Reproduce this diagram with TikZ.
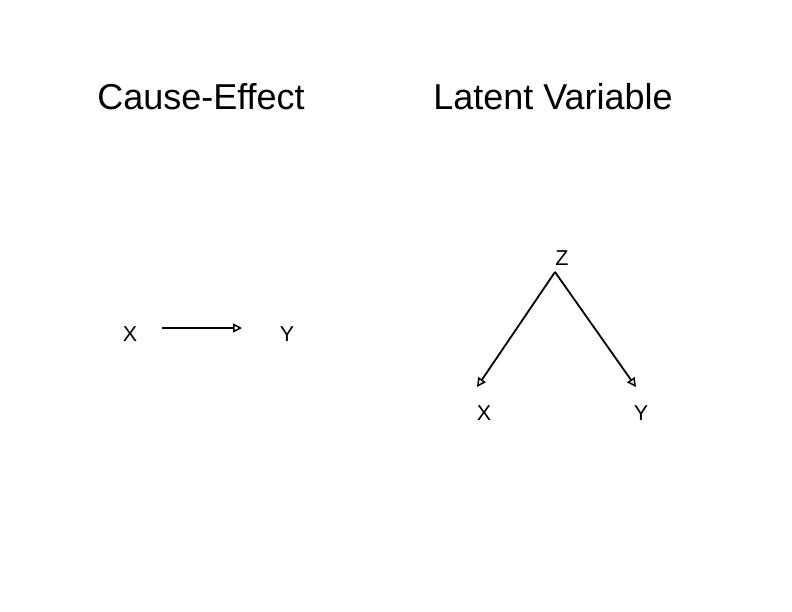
\documentclass[tikz,border=0pt]{standalone}
\usepackage{fontspec}
\setmainfont{Liberation Sans}
\usetikzlibrary{arrows.meta}
\begin{document}
\begin{tikzpicture}[x=1pt,y=-1pt,
  title/.style={anchor=base,inner sep=0pt,font=\fontsize{36}{40}\selectfont},
  lbl/.style={anchor=base,inner sep=0pt,font=\fontsize{21.5}{24}\selectfont},
  conn/.style={line width=1.8pt,-{Triangle[open,length=9pt,width=9pt,line width=1.5pt]}}]
\useasboundingbox (0,0) rectangle (792,611);
\node[title] (t1) at (201,109) {Cause-Effect};
\node[title] (t2) at (553,109) {Latent Variable};
\node[lbl] (x1) at (130,341) {X};
\node[lbl] (y1) at (287,341) {Y};
\node[lbl] (z) at (562,265) {Z};
\node[lbl] (x2) at (484,420) {X};
\node[lbl] (y2) at (641,420) {Y};
\coordinate (a1) at (162,328);
\coordinate (a2) at (242,328);
\coordinate (zs) at (555,272);
\coordinate (xe) at (477,387);
\coordinate (ye) at (636,387);
\draw[conn] (a1) -- (a2);
\draw[conn] (zs) -- (xe);
\draw[conn] (zs) -- (ye);
\end{tikzpicture}
\end{document}
